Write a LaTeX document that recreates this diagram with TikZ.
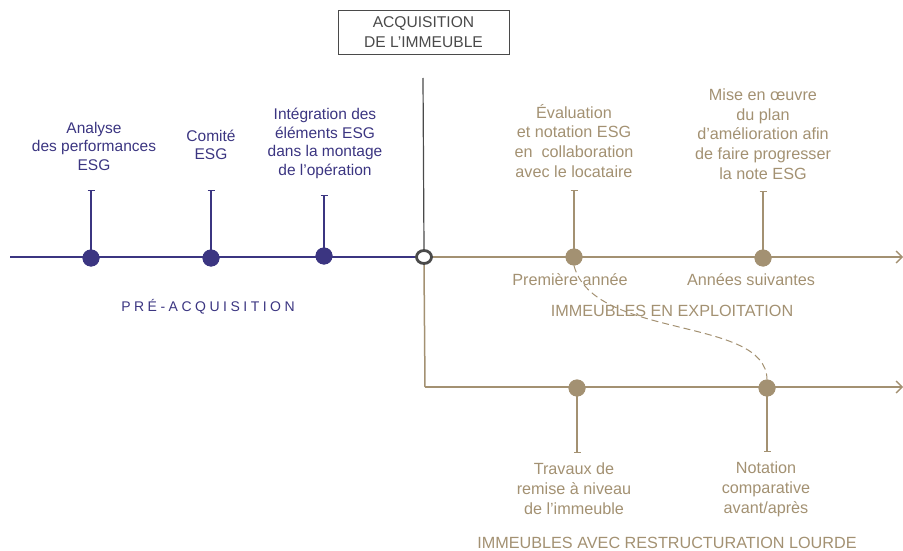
\documentclass[tikz,border=0pt]{standalone}
\usepackage{fontspec}
\setmainfont{Liberation Sans}
\usetikzlibrary{arrows.meta}
\definecolor{pur}{HTML}{3B3581}
\definecolor{tan}{HTML}{A39172}
\definecolor{gry}{HTML}{4A4A4A}
\begin{document}
\begin{tikzpicture}[x=1pt,y=-1pt,
  pdot/.style={circle,fill=pur,minimum size=17pt,inner sep=0pt},
  tdot/.style={circle,fill=tan,minimum size=17pt,inner sep=0pt},
  plbl/.style={text=pur,font=\fontsize{15.5}{18.5}\selectfont,align=center,inner sep=0pt},
  tlbl/.style={text=tan,font=\fontsize{16.2}{19.8}\selectfont,align=center,inner sep=0pt},
  pline/.style={draw=pur,line width=1.5pt},
  tline/.style={draw=tan,line width=1.5pt},
  pstem/.style={draw=pur,line width=1.3pt,{Bar[width=7pt]}-},
  tstem/.style={draw=tan,line width=1.3pt,{Bar[width=7pt]}-},
  tarrow/.style={draw=tan,line width=1.5pt,-{Straight Barb[length=6pt,width=12pt,line width=1.3pt]}},
  ]
\useasboundingbox (0,0) rectangle (903,551);
% acquisition box
\node[draw=gry,line width=0.8pt,minimum width=171pt,minimum height=44pt,inner sep=0pt,
  text=gry,font=\fontsize{15.6}{19.5}\selectfont,align=center] (box) at (423.5,32) {ACQUISITION\\DE L’IMMEUBLE};
\coordinate (vtop) at (423,78);
\coordinate (lstart) at (10,257);
\coordinate (rend) at (903,257);
\coordinate (corner) at (425,387);
\coordinate (r2end) at (903,387);
% main lines
\node[circle,minimum size=16pt,inner sep=0pt] (acq) at (424,257) {};
\draw[pline] (lstart) -- (acq.west);
\draw[tarrow] (acq.east) -- (rend);
\draw[tline] (acq.south) -- (corner);
\draw[tarrow] (corner) -- (r2end);
\draw[draw=gry,line width=1.2pt] (vtop) -- (acq.north);
% purple events
\node[pdot] (p1) at (91,258) {};
\node[pdot] (p2) at (211,258) {};
\node[pdot] (p3) at (324,256) {};
\coordinate (p1t) at (91,190);
\coordinate (p2t) at (211,190);
\coordinate (p3t) at (324,195);
\draw[pstem] (p1t) -- (p1.center);
\draw[pstem] (p2t) -- (p2.center);
\draw[pstem] (p3t) -- (p3.center);
\node[pdot] at (91,258) {};
\node[pdot] at (211,258) {};
\node[pdot] at (324,256) {};
\node[plbl,anchor=base] (l1) at (94,170) {Analyse\\des performances\\ESG};
\node[plbl,anchor=base] (l2) at (211,159.5) {Comité\\ESG};
\node[plbl,anchor=base] (l3) at (325,175) {Intégration des\\éléments ESG\\dans la montage\\de l’opération};
\node[text=pur,font=\fontsize{14}{16}\selectfont,anchor=base] (pre) at (208,311) {\addfontfeature{LetterSpace=25}PRÉ-ACQUISITION};
% acquisition circle on top
\draw[draw=gry,fill=white,line width=2.8pt] (acq.center) ellipse (7.5pt and 6.5pt);
% tan upper events
\node[tdot] (t1) at (574,257) {};
\node[tdot] (t2) at (763,258) {};
\coordinate (t1t) at (574,190);
\coordinate (t2t) at (763,191);
\draw[tstem] (t1t) -- (t1.center);
\draw[tstem] (t2t) -- (t2.center);
\node[tdot] at (574,257) {};
\node[tdot] at (763,258) {};
\node[tlbl,anchor=base] (e1) at (574,177.5) {Évaluation\\et notation ESG\\en\ \ collaboration\\avec le locataire};
\node[tlbl,anchor=base] (e2) at (763,179.5) {Mise en œuvre\\du plan\\d’amélioration afin\\de faire progresser\\la note ESG};
\node[tlbl,anchor=base] (y1) at (570,285) {Première année};
\node[tlbl,anchor=base] (y2) at (751,285) {Années suivantes};
\node[tlbl,anchor=base] (exp) at (672,316) {IMMEUBLES EN EXPLOITATION};
% tan lower events
\node[tdot] (b1) at (577,388) {};
\node[tdot] (b2) at (767,388) {};
\coordinate (b1b) at (577,453);
\coordinate (b2b) at (767,452);
\draw[tstem] (b1b) -- (b1.center);
\draw[tstem] (b2b) -- (b2.center);
\node[tdot] at (577,388) {};
\node[tdot] at (767,388) {};
\node[tlbl,anchor=base] (d1) at (574,514.5) {Travaux de\\remise à niveau\\de l’immeuble};
\node[tlbl,anchor=base] (d2) at (766,513) {Notation\\comparative\\avant/après};
\node[tlbl,anchor=base] (rest) at (667,548.5) {IMMEUBLES AVEC RESTRUCTURATION LOURDE};
% dashed link
\draw[tan,line width=1pt,dash pattern=on 7pt off 4pt] (t1.south) .. controls (594,340) and (766,316) .. (b2.north);
\end{tikzpicture}
\end{document}
